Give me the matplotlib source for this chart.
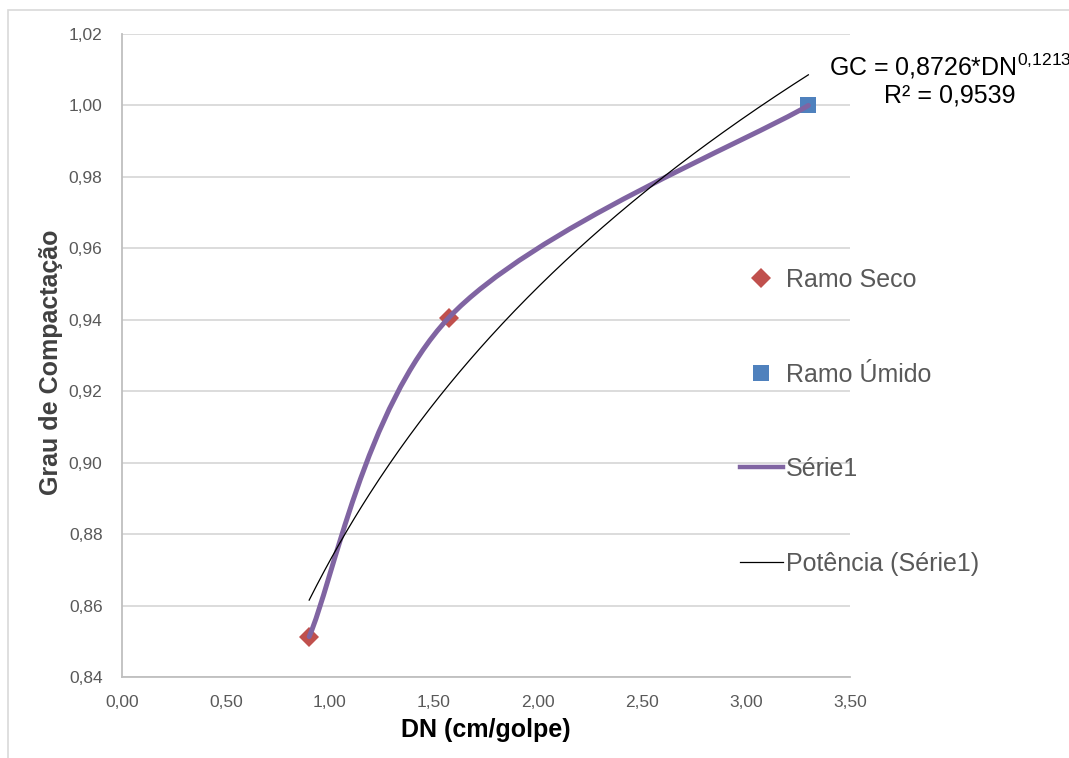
import numpy as np
import matplotlib
matplotlib.use('Agg')
import matplotlib.pyplot as plt
from matplotlib.path import Path
from matplotlib.patches import PathPatch, Rectangle
from matplotlib.lines import Line2D
from matplotlib.ticker import FuncFormatter, MultipleLocator

plt.rcParams['font.family'] = ['Liberation Sans', 'DejaVu Sans']
plt.rcParams['mathtext.fontset'] = 'custom'
plt.rcParams['mathtext.rm'] = 'Liberation Sans'

# ensaio DCP: DN x grau de compactacao
ramo_seco_dn = [0.90, 1.57]
ramo_seco_gc = [0.8513, 0.9405]
ramo_umido_dn = [3.30]
ramo_umido_gc = [1.000]

# linha de tendencia (potencia) ajustada na Serie1
coef_a = 0.8726
coef_b = 0.1213
r2 = 0.9539

serie1_dn = ramo_seco_dn + ramo_umido_dn
serie1_gc = ramo_seco_gc + ramo_umido_gc

GRAY = '#595959'


def smooth_path(xs, ys):
    # curva suavizada tipo Excel (bezier com tangentes de Catmull-Rom)
    pts = np.column_stack([xs, ys])
    n = len(pts)
    verts = [pts[0]]
    codes = [Path.MOVETO]
    for i in range(n - 1):
        p_prev = pts[max(i - 1, 0)]
        p0 = pts[i]
        p1 = pts[i + 1]
        p_next = pts[min(i + 2, n - 1)]
        c1 = p0 + (p1 - p_prev) / 6
        c2 = p1 - (p_next - p0) / 6
        verts += [c1, c2, p1]
        codes += [Path.CURVE4] * 3
    return Path(verts, codes)


def virgula(v):
    return f'{v:.4f}'.replace('.', ',')


fig = plt.figure(figsize=(10.69, 7.58), dpi=100)
ax = fig.add_axes([0.1141, 0.1069, 0.681, 0.8482])

# moldura do grafico
fig.patches.append(Rectangle((8 / 1069, -0.1), 1.2, 1 - 10 / 758 + 0.1,
                             transform=fig.transFigure, fill=False,
                             edgecolor='#d9d9d9', lw=1.2))

ax.plot(ramo_seco_dn, ramo_seco_gc, ls='none', marker='D', ms=10,
        color='#C0504D', mew=0, zorder=3)
ax.plot(ramo_umido_dn, ramo_umido_gc, ls='none', marker='s', ms=11.5,
        color='#4F81BD', mew=0, zorder=3)

ax.add_patch(PathPatch(smooth_path(serie1_dn, serie1_gc), fill=False,
                       edgecolor='#8064A2', lw=3.6, capstyle='round',
                       joinstyle='round', zorder=4))

dn = np.linspace(min(serie1_dn), max(serie1_dn), 200)
ax.plot(dn, coef_a * dn ** coef_b, color='black', lw=0.9, zorder=5)

ax.set_xlim(0, 3.5)
ax.set_ylim(0.84, 1.02)
ax.xaxis.set_major_locator(MultipleLocator(0.5))
ax.yaxis.set_major_locator(MultipleLocator(0.02))
fmt = FuncFormatter(lambda v, p: f'{v:.2f}'.replace('.', ','))
ax.xaxis.set_major_formatter(fmt)
ax.yaxis.set_major_formatter(fmt)
ax.tick_params(length=0, labelsize=12.5, labelcolor=GRAY)
ax.tick_params(axis='x', pad=13)
ax.tick_params(axis='y', pad=14)

ax.grid(axis='y', color='#d9d9d9', lw=1.3)
ax.set_axisbelow(True)
for s in ['top', 'right']:
    ax.spines[s].set_visible(False)
for s in ['left', 'bottom']:
    ax.spines[s].set_color('#bfbfbf')
    ax.spines[s].set_linewidth(1.3)

ax.set_xlabel('DN (cm/golpe)', fontsize=18, fontweight='bold', color='black')
ax.set_ylabel('Grau de Compactação', fontsize=18, fontweight='bold', color='#404040')
ax.xaxis.set_label_coords(0.5, -0.064)
ax.yaxis.set_label_coords(-0.081, 0.49)

handles = [
    Line2D([], [], ls='none', marker='D', ms=10, color='#C0504D', mew=0),
    Line2D([], [], ls='none', marker='s', ms=11.5, color='#4F81BD', mew=0),
    Line2D([], [], color='#8064A2', lw=3.2),
    Line2D([], [], color='black', lw=0.9),
]
labels = ['Ramo Seco', 'Ramo Úmido', 'Série1', 'Potência (Série1)']
fig.legend(handles, labels, loc='upper left', bbox_to_anchor=(740 / 1069, 1 - 268 / 758),
           bbox_transform=fig.transFigure, frameon=False, fontsize=18,
           labelcolor=GRAY, handlelength=1.7, handletextpad=0.12,
           labelspacing=2.82, borderpad=0, borderaxespad=0)

# equacao da tendencia (cortada na borda direita, como no grafico original)
fig.text(950 / 1069, 1 - 66 / 758,
         f'GC = {virgula(coef_a)}*DN' + r'$^{\mathregular{' + virgula(coef_b).replace(',', '{,}') + '}}$',
         fontsize=18, ha='center', va='center', color='black')
fig.text(950 / 1069, 1 - 96 / 758, f'R² = {virgula(r2)}',
         fontsize=18, ha='center', va='center', color='black')

fig.savefig('out.png', dpi=100)
